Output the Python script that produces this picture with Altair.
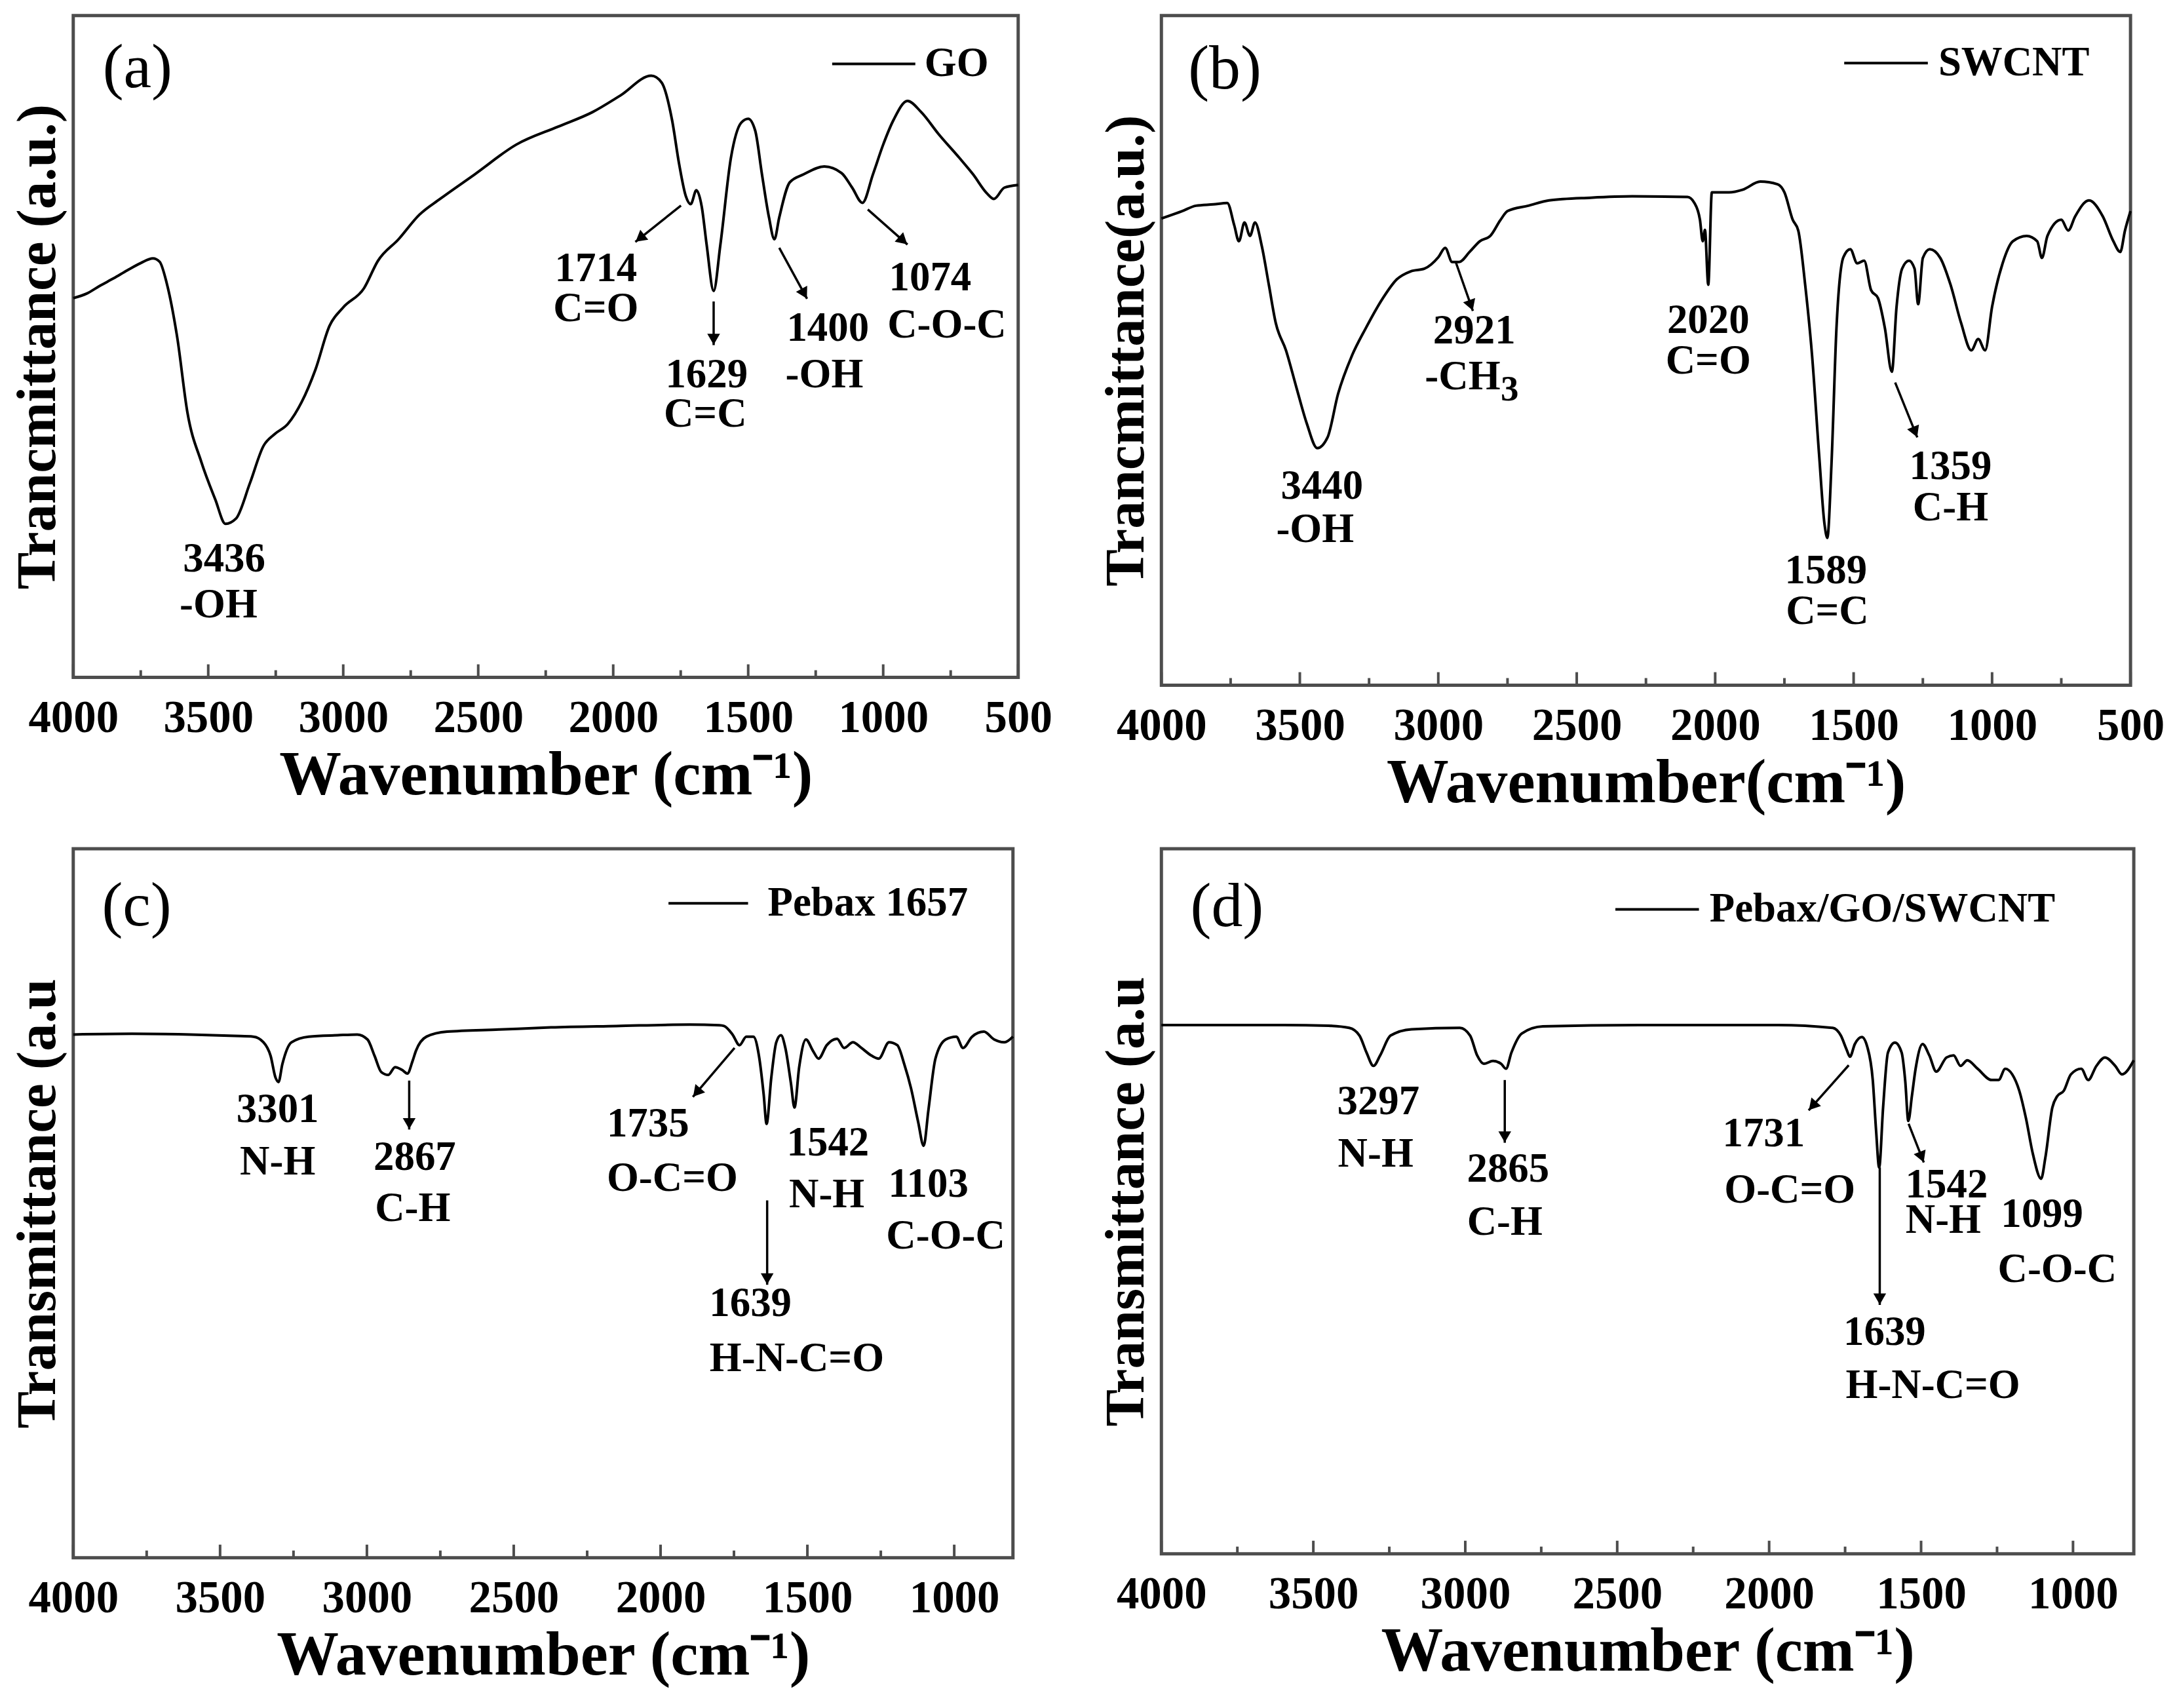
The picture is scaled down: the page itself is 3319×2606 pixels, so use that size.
import math
import altair as alt
import pandas as pd

FONT = "Liberation Serif"
FRAME = "#4d4d4d"

# ---------------- spectra (wavenumber, relative transmittance 0-100) ----------------
go_wn = [4000, 3950, 3900, 3850, 3800, 3750, 3705, 3680, 3654, 3615, 3577, 3526, 3474, 3436, 3397,
         3346, 3295, 3256, 3205, 3154, 3103, 3051, 3000, 2923, 2872, 2795, 2718, 2641, 2513, 2359,
         2205, 2077, 1974, 1859, 1821, 1782, 1756, 1731, 1713, 1692, 1672, 1654, 1628, 1603, 1564,
         1526, 1500, 1474, 1449, 1423, 1403, 1385, 1346, 1295, 1218, 1154, 1115, 1077, 1038, 1000,
         962, 910, 859, 795, 718, 667, 615, 590, 551, 500]
go_t = [57.3, 58.0, 59.2, 60.3, 61.5, 62.6, 63.3, 62.8, 59.6, 51.4, 40.0, 32.6, 26.9, 23.2, 24.0,
        29.3, 35.0, 36.7, 38.3, 41.6, 46.5, 53.1, 55.9, 58.8, 62.9, 66.2, 69.9, 72.3, 76.0, 80.5,
        83.2, 85.4, 87.9, 90.9, 89.9, 84.2, 77.6, 72.7, 71.5, 73.6, 71.1, 65.4, 58.4, 65.4, 78.5,
        83.8, 84.4, 82.6, 76.0, 69.5, 66.2, 69.5, 74.8, 76.0, 77.2, 76.2, 74.0, 71.7, 76.0, 80.5,
        84.2, 87.1, 85.4, 82.1, 78.5, 76.0, 73.1, 72.3, 74.0, 74.4]

swcnt_wn = [4000, 3925, 3875, 3812, 3762, 3737, 3720, 3700, 3680, 3662, 3637, 3612, 3587, 3550, 3512,
            3475, 3437, 3400, 3362, 3312, 3262, 3200, 3150, 3100, 3050, 3000, 2975, 2950, 2925, 2887,
            2850, 2812, 2775, 2750, 2675, 2600, 2450, 2300, 2100, 2075, 2055, 2045, 2037, 2025, 2012,
            1950, 1900, 1837, 1775, 1750, 1720, 1700, 1675, 1650, 1625, 1605, 1595, 1580, 1562, 1537,
            1512, 1487, 1462, 1437, 1412, 1387, 1362, 1345, 1325, 1300, 1280, 1267, 1250, 1225, 1187,
            1150, 1112, 1075, 1050, 1025, 1000, 962, 925, 875, 837, 820, 800, 750, 725, 700,
            650, 600, 562, 537, 520, 500]
swcnt_t = [69.7, 70.8, 71.6, 71.8, 72.0, 68.7, 66.3, 69.1, 67.1, 69.1, 65.5, 59.8, 54.1, 50.0, 44.4,
           39.1, 35.4, 37.0, 43.5, 49.2, 53.3, 57.8, 60.6, 61.8, 62.2, 63.9, 65.3, 63.2, 63.2, 64.7,
           66.3, 67.1, 69.5, 70.8, 71.6, 72.4, 72.8, 73.0, 72.9, 72.0, 69.5, 66.3, 68.0, 59.8, 73.6,
           73.6, 74.0, 75.2, 74.8, 73.6, 69.5, 67.9, 59.8, 49.2, 34.6, 24.0, 22.0, 33.0, 53.3, 63.9,
           65.1, 63.0, 63.4, 59.0, 57.8, 53.3, 46.8, 56.5, 62.2, 63.4, 62.2, 56.9, 63.8, 65.1, 63.8,
           59.8, 54.1, 50.0, 51.7, 50.0, 56.5, 63.0, 66.3, 67.1, 66.3, 63.8, 67.1, 69.5, 67.9, 70.0,
           72.4, 70.0, 66.3, 64.7, 67.9, 70.8]

pebax_wn = [4000, 3800, 3600, 3450, 3387, 3352, 3328, 3311, 3301, 3288, 3257, 3198, 3100, 3033, 2998,
            2974, 2951, 2927, 2904, 2880, 2862, 2845, 2833, 2797, 2727, 2550, 2373, 2150, 1901, 1800,
            1784, 1755, 1731, 1708, 1684, 1665, 1649, 1639, 1623, 1606, 1590, 1575, 1556, 1544, 1528,
            1505, 1481, 1462, 1434, 1399, 1375, 1345, 1316, 1281, 1257, 1222, 1194, 1170, 1147, 1123,
            1104, 1088, 1064, 1029, 993, 970, 939, 899, 864, 829, 800]
pebax_t = [73.8, 73.9, 73.8, 73.6, 73.5, 72.7, 70.8, 67.7, 67.1, 69.6, 72.7, 73.5, 73.7, 73.8, 73.1,
           70.8, 68.5, 68.1, 69.2, 68.8, 68.3, 70.0, 71.5, 73.5, 74.2, 74.5, 74.8, 75.0, 75.2, 75.1,
           75.0, 73.8, 72.3, 73.5, 73.5, 70.8, 65.4, 61.2, 67.7, 72.7, 73.7, 71.9, 66.9, 63.5, 69.2,
           73.1, 71.5, 70.4, 72.3, 73.2, 71.9, 72.7, 71.9, 70.8, 70.4, 72.7, 72.3, 69.6, 66.2, 61.5,
           58.1, 63.1, 70.4, 73.1, 73.5, 71.9, 73.5, 74.2, 73.1, 72.7, 73.5]

comp_wn = [4000, 3800, 3600, 3450, 3382, 3348, 3325, 3302, 3280, 3246, 3177, 3018, 2984, 2961, 2939,
           2909, 2882, 2866, 2848, 2814, 2745, 2427, 1972, 1791, 1764, 1745, 1734, 1718, 1695, 1677,
           1659, 1648, 1638, 1625, 1609, 1586, 1564, 1552, 1542, 1530, 1518, 1495, 1473, 1450, 1416,
           1393, 1370, 1348, 1314, 1268, 1245, 1223, 1200, 1177, 1155, 1132, 1105, 1091, 1068, 1052,
           1030, 1007, 973, 950, 923, 895, 861, 839, 800]
comp_t = [75.0, 75.0, 75.0, 74.9, 74.6, 73.5, 71.1, 69.2, 70.7, 73.5, 74.4, 74.6, 73.5, 70.7, 69.5,
          69.9, 69.5, 68.8, 71.1, 73.8, 74.8, 75.0, 75.0, 74.6, 73.5, 71.5, 70.5, 72.3, 73.3, 71.9,
          67.2, 60.0, 54.8, 63.3, 71.1, 72.5, 71.1, 67.0, 61.4, 65.0, 68.8, 72.3, 70.7, 68.4, 70.4,
          70.7, 69.2, 70.0, 68.8, 67.2, 67.2, 68.8, 68.0, 65.7, 61.8, 56.7, 53.2, 56.2, 63.3, 64.9,
          65.7, 68.0, 68.8, 67.2, 69.2, 70.4, 69.2, 68.0, 70.0]

# ---------------- annotations ----------------
a_lab_text = ["3436", "-OH", "1714", "C=O", "1629", "C=C", "1400", "-OH", "1074", "C-O-C"]
a_lab_wn = [3441, 3462, 2064, 2064, 1654, 1659, 1205, 1218, 826, 764]
a_lab_t = [17.9, 10.9, 61.7, 55.7, 45.7, 39.8, 52.7, 45.7, 60.4, 53.2]
a_arr = [(1749, 71.3, 1918, 65.8), (1628, 56.8, 1628, 50.2), (1385, 64.9, 1282, 57.2), (1057, 70.7, 910, 65.4)]

b_lab_text = ["3440", "-OH", "2921", "-CH", "3", "2020", "C=O", "1589", "C=C", "1359", "C-H"]
b_lab_wn = [3420, 3445, 2870, 2912, 2742, 2025, 2025, 1600, 1595, 1150, 1150]
b_lab_t = [29.7, 23.2, 52.9, 46.0, 44.2, 54.5, 48.4, 17.1, 11.0, 32.6, 26.5]
b_arr = [(2937, 63.2, 2875, 55.9), (1350, 45.2, 1270, 37.0)]

c_lab_text = ["3301", "N-H", "2867", "C-H", "1735", "O-C=O", "1542", "N-H", "1103", "C-O-C", "1639", "H-N-C=O"]
c_lab_wn = [3304, 3304, 2837, 2844, 2043, 1960, 1430, 1434, 1088, 1029, 1694, 1536]
c_lab_t = [63.2, 55.8, 56.5, 49.2, 61.2, 53.5, 58.5, 51.2, 52.7, 45.4, 35.8, 28.1]
c_arr = [(2856, 67.3, 2856, 60.4), (1748, 71.9, 1890, 65.0), (1637, 50.4, 1637, 38.5)]

d_lab_text = ["3297", "N-H", "2865", "C-H", "1731", "O-C=O", "1542", "N-H", "1099", "C-O-C", "1639", "H-N-C=O"]
d_lab_wn = [3286, 3295, 2859, 2870, 2018, 1932, 1416, 1427, 1102, 1052, 1620, 1461]
d_lab_t = [64.1, 56.7, 54.5, 47.0, 59.6, 51.6, 52.3, 47.3, 48.1, 40.3, 31.4, 23.9]
d_arr = [(2870, 67.2, 2870, 58.3), (1738, 69.3, 1870, 62.9), (1636, 54.8, 1636, 35.3), (1541, 61.0, 1491, 55.5)]

# legend: (line start, line end, y, text start, name)
a_leg = (1189, 881, 92.7, 847, "GO")
b_leg = (1534, 1232, 92.9, 1194, "SWCNT")
c_leg = (1973, 1702, 92.3, 1635, "Pebax 1657")
d_leg = (2506, 2231, 91.4, 2196, "Pebax/GO/SWCNT")

tags = {"a": ("(a)", 3762, 92.0), "b": ("(b)", 3771, 91.9), "c": ("(c)", 3784, 91.9), "d": ("(d)", 3784, 91.7)}


def make_panel(wn, tr, lo, W, H, ytitle, xtitle, xvals, lab_text, lab_wn, lab_t, arrows, leg, tag):
    span = 4000 - lo
    xs = alt.Scale(domain=[lo, 4000], reverse=True, nice=False, zero=False)
    ys = alt.Scale(domain=[0, 100], nice=False, zero=False)
    xaxis = alt.Axis(values=xvals, title=xtitle, ticks=False, domain=False, grid=False,
                     labelFlush=False, labelOverlap=False, format="d",
                     labelFont=FONT, labelFontSize=69, labelFontWeight="bold", labelColor="black",
                     labelPadding=28, titleFont=FONT, titleFontSize=95, titleFontWeight="bold",
                     titleColor="black", titlePadding=6)
    yaxis = alt.Axis(title=ytitle, labels=False, ticks=False, domain=False, grid=False,
                     titleFont=FONT, titleFontSize=85, titleFontWeight="bold", titleColor="black",
                     titlePadding=10)
    X = lambda: alt.X("wn:Q", scale=xs, axis=xaxis)
    Y = lambda: alt.Y("t:Q", scale=ys, axis=yaxis)

    line = alt.Chart(pd.DataFrame({"wn": wn, "t": tr})).mark_line(
        color="black", strokeWidth=4, strokeJoin="round", interpolate="monotone"
    ).encode(x=X(), y=Y())

    major = [v for v in range(4000, lo - 1, -500)]
    minor = [v for v in range(3750, lo, -500)]
    tmaj = alt.Chart(pd.DataFrame({"wn": major})).mark_rule(color=FRAME, strokeWidth=4).encode(
        x=X(), y=alt.value(H), y2=alt.value(H - 20))
    tmin = alt.Chart(pd.DataFrame({"wn": minor})).mark_rule(color=FRAME, strokeWidth=4).encode(
        x=X(), y=alt.value(H), y2=alt.value(H - 11))

    labs = pd.DataFrame({"wn": lab_wn, "t": lab_t, "label": lab_text})
    labs["size"] = [55 if s == "3" else 63 for s in lab_text]
    text = alt.Chart(labs).mark_text(font=FONT, fontWeight="bold", color="black",
                                     align="center", baseline="middle").encode(
        x=X(), y=Y(), text="label:N", size=alt.Size("size:Q", scale=None, legend=None))

    arr_df = pd.DataFrame(arrows, columns=["wn", "t", "wn2", "t2"])
    rules = alt.Chart(arr_df).mark_rule(color="black", strokeWidth=3.5).encode(
        x=X(), y=Y(), x2="wn2:Q", y2="t2:Q")
    heads = []
    for x1, y1, x2, y2 in arrows:
        dxp = -(x2 - x1) * W / span
        dyp = -(y2 - y1) * H / 100.0
        n = math.hypot(dxp, dyp)
        ux, uy = dxp / n, dyp / n
        ang = math.degrees(math.atan2(ux, -uy)) % 360
        back = 9.0
        heads.append({"wn": x2 + back * ux * span / W, "t": y2 + back * uy * 100.0 / H, "ang": ang})
    head = alt.Chart(pd.DataFrame(heads)).mark_point(
        shape="triangle-up", filled=True, color="black", size=380, opacity=1).encode(
        x=X(), y=Y(), angle=alt.Angle("ang:Q", scale=None))

    l0, l1, ly, lt, name = leg
    legl = alt.Chart(pd.DataFrame({"wn": [l0], "wn2": [l1], "t": [ly]})).mark_rule(
        color="black", strokeWidth=4).encode(x=X(), x2="wn2:Q", y=Y())
    legt = alt.Chart(pd.DataFrame({"wn": [lt], "t": [ly], "label": [name]})).mark_text(
        font=FONT, fontSize=63, fontWeight="bold", color="black", align="left", baseline="middle").encode(
        x=X(), y=Y(), text="label:N")

    tg, tx, ty = tag
    tagm = alt.Chart(pd.DataFrame({"wn": [tx], "t": [ty], "label": [tg]})).mark_text(
        font=FONT, fontSize=96, fontWeight="normal", color="black", align="center", baseline="middle").encode(
        x=X(), y=Y(), text="label:N")

    return alt.layer(line, tmaj, tmin, rules, head, text, legl, legt, tagm).properties(width=W, height=H)


xt = "Wavenumber (cm\u207b\u00b9)"
pa = make_panel(go_wn, go_t, 500, 1445, 1012, "Trancmittance (a.u.)", xt,
                [4000, 3500, 3000, 2500, 2000, 1500, 1000, 500],
                a_lab_text, a_lab_wn, a_lab_t, a_arr, a_leg, tags["a"])
pb = make_panel(swcnt_wn, swcnt_t, 500, 1482, 1024, "Trancmittance(a.u.)", "Wavenumber(cm\u207b\u00b9)",
                [4000, 3500, 3000, 2500, 2000, 1500, 1000, 500],
                b_lab_text, b_lab_wn, b_lab_t, b_arr, b_leg, tags["b"])
pc = make_panel(pebax_wn, pebax_t, 800, 1437, 1084, "Transmittance (a.u", xt,
                [4000, 3500, 3000, 2500, 2000, 1500, 1000],
                c_lab_text, c_lab_wn, c_lab_t, c_arr, c_leg, tags["c"])
pd_ = make_panel(comp_wn, comp_t, 800, 1487, 1078, "Transmittance (a.u", xt,
                 [4000, 3500, 3000, 2500, 2000, 1500, 1000],
                 d_lab_text, d_lab_wn, d_lab_t, d_arr, d_leg, tags["d"])

chart = alt.concat(pa, pb, pc, pd_, columns=2, spacing={"row": 250, "column": 219},
                   bounds="flush").properties(
    padding={"left": 5, "top": 10, "right": 5, "bottom": 5}, background="white"
).configure_view(stroke=FRAME, strokeWidth=5)

chart.save("out.html", embed_options={"renderer": "svg", "actions": False})
